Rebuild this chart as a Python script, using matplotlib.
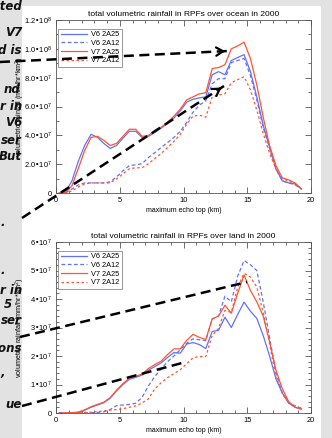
import matplotlib
matplotlib.use("Agg")
import matplotlib.pyplot as plt
import numpy as np
from matplotlib.lines import Line2D
from matplotlib.patches import Rectangle
from matplotlib.ticker import FixedLocator, FixedFormatter, MultipleLocator

# ---------------- data ----------------
echo_top_km = [0.25 + 0.5 * i for i in range(39)]

# ocean (units of 1e7 mm/hr*km^2)
ocean_v6_2a25 = [0.0, 0.07, 0.84, 2.2, 3.3, 4.07, 3.86, 3.44, 3.09, 3.3, 3.8, 4.28, 4.28, 3.86, 3.93,
                 4.2, 4.5, 4.85, 5.2, 5.7, 6.3, 6.5, 6.6, 6.67, 8.2, 8.42, 8.2, 9.19, 9.4, 9.6,
                 8.42, 6.67, 4.7, 3.16, 1.68, 0.84, 0.7, 0.63, 0.28]
ocean_v6_2a12 = [0.0, 0.0, 0.28, 0.56, 0.7, 0.7, 0.7, 0.7, 0.77, 1.12, 1.54, 1.9, 1.96, 2.03, 2.46,
                 2.8, 3.16, 3.5, 3.86, 4.28, 4.9, 5.6, 6.1, 6.4, 7.58, 7.93, 7.93, 9.05, 9.19, 9.33,
                 8.14, 6.46, 4.56, 3.09, 1.68, 0.84, 0.7, 0.56, 0.28]
ocean_v7_2a25 = [0.0, 0.02, 0.5, 1.7, 2.95, 3.86, 3.93, 3.65, 3.3, 3.44, 3.93, 4.42, 4.42, 3.93, 4.0,
                 4.28, 4.56, 4.91, 5.33, 5.82, 6.46, 6.67, 6.88, 6.95, 8.63, 8.7, 8.9, 10.0, 10.2, 10.46,
                 9.33, 7.5, 5.26, 3.3, 1.9, 1.05, 0.91, 0.7, 0.28]
ocean_v7_2a12 = [0.0, 0.0, 0.14, 0.42, 0.63, 0.7, 0.7, 0.7, 0.7, 0.98, 1.33, 1.68, 1.75, 1.75, 2.03,
                 2.39, 2.74, 3.16, 3.58, 4.07, 4.77, 5.33, 5.4, 5.26, 6.67, 6.8, 6.88, 7.65, 7.86, 8.07,
                 7.16, 5.75, 4.14, 2.74, 1.68, 0.98, 0.84, 0.63, 0.28]

# land (units of 1e7 mm/hr*km^2)
land_v6_2a25 = [0.0, 0.0, 0.01, 0.02, 0.1, 0.2, 0.28, 0.36, 0.52, 0.78, 1.0, 1.18, 1.25, 1.33, 1.5,
                1.63, 1.76, 1.95, 2.12, 2.1, 2.42, 2.47, 2.4, 2.26, 2.86, 2.9, 3.36, 3.0, 3.46, 3.89,
                3.57, 3.32, 2.72, 2.0, 1.2, 0.7, 0.35, 0.2, 0.14]
land_v6_2a12 = [0.0, 0.0, 0.0, 0.0, 0.01, 0.01, 0.02, 0.04, 0.12, 0.26, 0.28, 0.3, 0.34, 0.55, 0.95,
                1.28, 1.55, 1.8, 2.0, 2.22, 2.45, 2.6, 2.57, 2.54, 3.3, 3.4, 4.1, 3.9, 4.8, 5.35,
                5.2, 5.0, 3.9, 2.65, 1.4, 0.7, 0.35, 0.25, 0.17]
land_v7_2a25 = [0.0, 0.0, 0.01, 0.03, 0.11, 0.22, 0.3, 0.38, 0.54, 0.8, 1.03, 1.22, 1.28, 1.37, 1.56,
                1.7, 1.82, 2.05, 2.25, 2.25, 2.55, 2.76, 2.65, 2.58, 3.3, 3.4, 3.78, 3.5, 4.2, 4.84,
                4.3, 3.9, 3.4, 2.5, 1.5, 0.85, 0.4, 0.2, 0.14]
land_v7_2a12 = [0.0, 0.0, 0.0, 0.01, 0.02, 0.03, 0.05, 0.07, 0.1, 0.12, 0.15, 0.2, 0.25, 0.35, 0.5,
                0.85, 1.06, 1.24, 1.38, 1.52, 1.73, 1.94, 1.98, 1.98, 2.72, 2.97, 3.6, 3.53, 4.42, 4.9,
                4.77, 4.42, 3.53, 2.44, 1.24, 0.7, 0.35, 0.25, 0.14]

series_labels = ["V6 2A25", "V6 2A12", "V7 2A25", "V7 2A12"]
titles = ["total volumetric rainfall in RPFs over ocean in 2000",
          "total volumetric rainfall in RPFs over land in 2000"]
xlabel = "maximum echo top (km)"
ylabel = "volumetric rainfall (mm/hr*km$^2$)"
x_ticks = [0, 5, 10, 15, 20]
x_ticklabels = ["0", "5", "10", "15", "20"]
ocean_yticks = [0, 2e7, 4e7, 6e7, 8e7, 1.0e8, 1.2e8]
ocean_yticklabels = ["0", "2.0\u202210$^7$", "4.0\u202210$^7$", "6.0\u202210$^7$",
                     "8.0\u202210$^7$", "1.0\u202210$^8$", "1.2\u202210$^8$"]
land_yticks = [0, 1e7, 2e7, 3e7, 4e7, 5e7, 6e7]
land_yticklabels = ["0", "1\u202210$^7$", "2\u202210$^7$", "3\u202210$^7$",
                    "4\u202210$^7$", "5\u202210$^7$", "6\u202210$^7$"]

# ---------------- style ----------------
from matplotlib import font_manager
avail = {f.name for f in font_manager.fontManager.ttflist}
narrow = "Liberation Sans Narrow" if "Liberation Sans Narrow" in avail else "Liberation Sans"
plt.rcParams['font.family'] = [narrow, 'DejaVu Sans']
plt.rcParams['mathtext.default'] = 'regular'

BLUE = "#5f72ff"
RED = "#ff5530"
W, H = 332, 438

fig = plt.figure(figsize=(W / 100, H / 100), dpi=100)
fig.patch.set_facecolor("#e2e2e2")
fig.add_artist(Rectangle((22 / W, 0), (321 - 22) / W, (H - 6) / H, transform=fig.transFigure,
                         facecolor="white", edgecolor="none", zorder=0))


def px_axes(left, top, right, bottom):
    return fig.add_axes([left / W, 1 - bottom / H, (right - left) / W, (bottom - top) / H])


ax1 = px_axes(56, 20, 311, 193)
ax2 = px_axes(56, 242, 311, 413)

x = np.array(echo_top_km)
styles = [dict(color=BLUE, ls="-"), dict(color=BLUE, ls=(0, (3, 2))),
          dict(color=RED, ls="-"), dict(color=RED, ls=(0, (2, 2)))]

for ax, data, yt, ytl, ymax, ttl, yminor in [
        (ax1, [ocean_v6_2a25, ocean_v6_2a12, ocean_v7_2a25, ocean_v7_2a12],
         ocean_yticks, ocean_yticklabels, 1.2e8, titles[0], 1e7),
        (ax2, [land_v6_2a25, land_v6_2a12, land_v7_2a25, land_v7_2a12],
         land_yticks, land_yticklabels, 6e7, titles[1], 0.2e7)]:
    for d, st, lab in zip(data, styles, series_labels):
        ax.plot(x, np.array(d) * 1e7, lw=0.9, label=lab, **st)
    ax.set_xlim(0, 20)
    ax.set_ylim(0, ymax)
    ax.xaxis.set_major_locator(FixedLocator(x_ticks))
    ax.xaxis.set_major_formatter(FixedFormatter(x_ticklabels))
    ax.xaxis.set_minor_locator(MultipleLocator(1))
    ax.yaxis.set_major_locator(FixedLocator(yt))
    ax.yaxis.set_major_formatter(FixedFormatter(ytl))
    ax.yaxis.set_minor_locator(MultipleLocator(yminor))
    ax.tick_params(which="both", direction="in", top=True, right=True, labelsize=5.4,
                   width=0.5, colors="#333333", labelcolor="black", pad=3)
    ax.tick_params(which="major", length=4)
    ax.tick_params(which="minor", length=2)
    for sp in ax.spines.values():
        sp.set_linewidth(0.6)
        sp.set_color("#555555")
    ax.set_title(ttl, fontsize=6.0, pad=3)
    ax.set_xlabel(xlabel, fontsize=5.0, labelpad=2)
    ax.set_ylabel(ylabel, fontsize=5.2)
    ax.yaxis.set_label_coords(-0.114, 0.5)
    leg = ax.legend(loc="upper left", bbox_to_anchor=(0.008, 0.95), fontsize=5.3,
                    handlelength=3.6, handletextpad=0.5, labelspacing=0.2, borderpad=0.35,
                    fancybox=False, framealpha=1, edgecolor="#888888", borderaxespad=0)
    leg.get_frame().set_linewidth(0.6)


# ---------------- annotation arrows (figure pixel coords, y from top) ----------------
def dashed_arrow(x0, y0, x1, y1):
    fig.add_artist(Line2D([x0 / W, x1 / W], [1 - y0 / H, 1 - y1 / H], transform=fig.transFigure,
                          color="black", lw=1.8, ls=(0, (4, 2.2)), zorder=10))
    ax1.annotate("", xy=(x1, H - y1), xycoords="figure pixels",
                 xytext=(x1 - (x1 - x0) * 0.04, H - (y1 - (y1 - y0) * 0.04)),
                 textcoords="figure pixels",
                 arrowprops=dict(arrowstyle="->,head_length=0.5,head_width=0.3",
                                 color="black", lw=1.6), zorder=11, annotation_clip=False)


dashed_arrow(0, 62, 228, 51)
dashed_arrow(22, 218, 224, 86)
dashed_arrow(20, 337, 247, 282)
dashed_arrow(22, 406, 182, 363)

# ---------------- left slide text fragments ----------------
frags = [("unted", 22, 7), ("V7", 22, 33), ("d is", 22, 50), ("nd", 20, 90),
         ("er in", 22, 107), ("V6", 22, 123), ("ser", 22, 140), ("But", 22, 157),
         (".", 5, 222), (".", 5, 270),
         ("er in", 22, 291), ("5", 12, 305), ("ser", 22, 320), ("ions", 22, 348),
         (",", 5, 372), ("ue", 22, 405)]
for t, xr, yc in frags:
    fig.text(xr / W, 1 - yc / H, t, ha="right", va="center", fontsize=8.5,
             fontweight="bold", fontstyle="italic", family="DejaVu Sans", color="#111111")

fig.savefig("out.png", dpi=100, facecolor=fig.get_facecolor())
